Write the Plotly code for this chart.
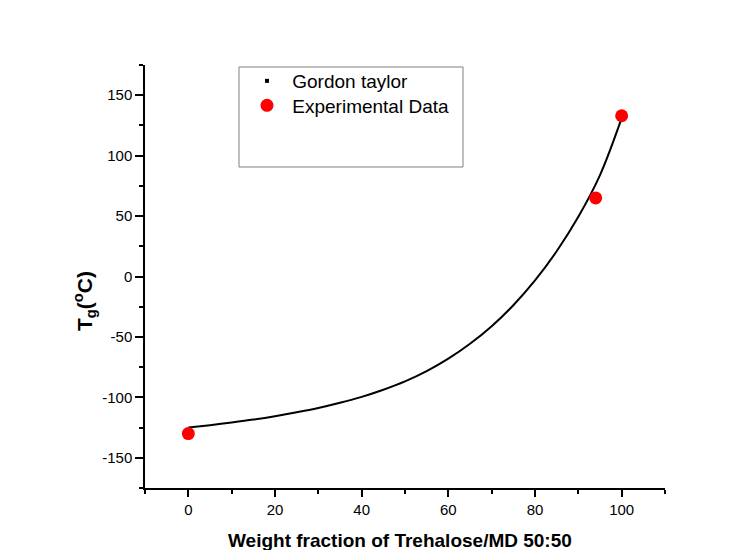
import plotly.graph_objects as go

# Gordon-Taylor fitted curve (weight fraction %, Tg in °C)
gt_x = [0, 5, 10, 15, 20, 25, 30, 35, 40, 45, 50, 55, 60, 65, 70, 75, 80, 85, 90, 95, 100]
gt_y = [-125, -123, -120.8, -118.4, -115.6, -112.4, -108.8, -104.5, -99.6, -93.7,
        -86.8, -78.3, -68, -55.7, -41.1, -23.8, -3.3, 20.9, 49.4, 83.9, 131]

# Measured glass transition temperatures
exp_x = [0, 94, 100]
exp_y = [-130, 65, 133]

x_ticks = [0, 20, 40, 60, 80, 100]
y_ticks = [-150, -100, -50, 0, 50, 100, 150]

FONT = "Liberation Sans, Arial, sans-serif"

L, R, T, B = 145, 91, 65, 62
W, H = 756, 550
pw, ph = W - L - R, H - T - B


def px_x(p):
    return (p - L) / pw


def px_y(p):
    return (H - B - p) / ph


fig = go.Figure()

fig.add_trace(go.Scatter(
    x=gt_x, y=gt_y, mode="lines",
    line=dict(color="black", width=2, shape="spline", smoothing=1.0),
    showlegend=False,
))
# legend entry for the fitted curve (drawn as a small square)
fig.add_trace(go.Scatter(
    x=[None], y=[None], mode="markers", name="\u00a0Gordon taylor",
    marker=dict(symbol="square", size=4, color="black"),
    legend="legend",
))
fig.add_trace(go.Scatter(
    x=exp_x, y=exp_y, mode="markers", name="\u00a0Experimental Data",
    marker=dict(symbol="circle", size=13, color="#ff0000"),
    legend="legend2",
))

legend_common = dict(
    xanchor="left", yanchor="top",
    bgcolor="rgba(0,0,0,0)", borderwidth=0,
    font=dict(family=FONT, size=19, color="black"),
    itemsizing="trace",
)

fig.update_layout(
    width=W, height=H,
    margin=dict(l=L, r=R, t=T, b=B, autoexpand=False),
    paper_bgcolor="white", plot_bgcolor="white",
    font=dict(family=FONT, size=15, color="black"),
    legend=dict(x=px_x(247), y=px_y(62), **legend_common),
    legend2=dict(x=px_x(247), y=px_y(86.5), **legend_common),
    shapes=[dict(
        type="rect", xref="paper", yref="paper",
        x0=px_x(239), x1=px_x(463), y0=px_y(167), y1=px_y(67),
        line=dict(color="#808080", width=1), fillcolor="rgba(0,0,0,0)",
    )],
    annotations=[
        dict(
            text="<b>T<sub>g</sub>(<sup>o</sup>C)</b>",
            xref="paper", yref="paper", x=px_x(84), y=px_y(301),
            xanchor="center", yanchor="middle",
            textangle=-90, showarrow=False,
            font=dict(family=FONT, size=21, color="black"),
        ),
        dict(
            text="<b>Weight fraction of Trehalose/MD 50:50</b>",
            xref="paper", yref="paper", x=px_x(400), y=px_y(540),
            xanchor="center", yanchor="middle", showarrow=False,
            font=dict(family=FONT, size=19, color="black"),
        ),
    ],
)

fig.update_xaxes(
    range=[-10, 110], showgrid=False, zeroline=False, automargin=False,
    showline=True, linecolor="black", linewidth=1.5,
    ticks="outside", ticklen=7, tickwidth=1.5, tickcolor="black",
    tickvals=x_ticks, ticktext=[str(v) for v in x_ticks],
    minor=dict(ticks="outside", ticklen=4, tickwidth=1.5, tickcolor="black",
               tick0=-10, dtick=20, showgrid=False),
)
fig.update_yaxes(
    range=[-175, 175], showgrid=False, zeroline=False, automargin=False,
    showline=True, linecolor="black", linewidth=1.5,
    ticks="outside", ticklen=8, tickwidth=1.5, tickcolor="black",
    tickvals=y_ticks, ticktext=[str(v) for v in y_ticks],
    minor=dict(ticks="outside", ticklen=4, tickwidth=1.5, tickcolor="black",
               tick0=-175, dtick=50, showgrid=False),
)

fig.write_html("out.html")
